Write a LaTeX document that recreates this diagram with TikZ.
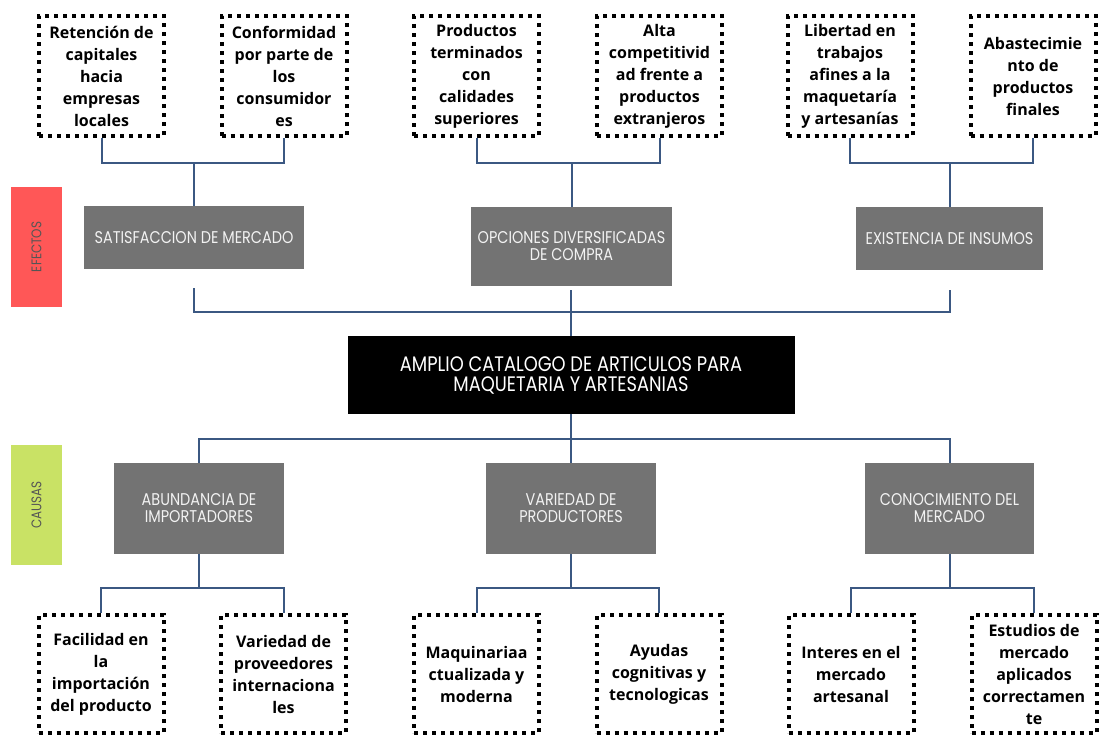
\documentclass[tikz,border=0pt]{standalone}
\usepackage{fontspec}
\setmainfont{Open Sans}
\newfontfamily\gfont[FakeStretch=0.85]{Poppins}
\usepackage{tikz}
\usetikzlibrary{positioning}
\usetikzlibrary{calc}
\usepackage{color}
\definecolor{gris}{RGB}{115,115,115}
\definecolor{claro}{RGB}{242,242,242}
\definecolor{azul}{RGB}{59,88,130}
\definecolor{rojo}{RGB}{255,87,87}
\definecolor{verde}{RGB}{201,226,101}
\definecolor{rotulo}{RGB}{85,85,85}

\tikzset{
  detalle/.style={draw,line width=4pt,dash pattern=on 4pt off 5pt,
    minimum width=125pt,minimum height=120pt,inner sep=0pt,align=center,
    font=\fontsize{16}{22}\selectfont\bfseries},
  bloque/.style={fill=gris,text=claro,inner sep=0pt,align=center,
    font=\gfont\fontsize{17}{17}\selectfont},
  rotulo/.style={rotate=90,minimum width=120pt,minimum height=51pt,inner sep=0pt,
    text=rotulo,font=\gfont\fontsize{14}{14}\selectfont},
  link/.style={draw=azul,line width=2pt}
}

\begin{document}
\begin{tikzpicture}[x=1pt,y=-1pt]
\useasboundingbox (0,0) rectangle (1099,736);
% efectos
\path
(101.5,76) node [detalle](e11) {Retención de\\capitales\\hacia\\empresas\\locales}
(284,76) node [detalle](e12) {Conformidad\\por parte de\\los\\consumidor\\es}
(476.5,76) node [detalle](e21) {Productos\\terminados\\con\\calidades\\superiores}
(659.5,76) node [detalle](e22) {Alta\\competitivid\\ad frente a\\productos\\extranjeros}
(850,76) node [detalle](e31) {Libertad en\\trabajos\\afines a la\\maquetaría\\y artesanías}
(1033,76) node [detalle](e32) {Abastecimie\\nto de\\productos\\finales};
\path
(194,237.5) node [bloque,minimum width=220pt,minimum height=63pt](ef1) {SATISFACCION DE MERCADO}
(571.5,246.5) node [bloque,minimum width=201pt,minimum height=79pt](ef2) {OPCIONES DIVERSIFICADAS\\DE COMPRA}
(949.5,238.5) node [bloque,minimum width=187pt,minimum height=63pt](ef3) {EXISTENCIA DE INSUMOS};
\node [rotulo,fill=rojo](efectos) at (36.5,247) {EFECTOS};
% problema central
\node [fill=black,text=white,minimum width=447pt,minimum height=78pt,inner sep=0pt,align=center,
  font=\gfont\fontsize{21}{20}\selectfont](main) at (571,375)
  {AMPLIO CATALOGO DE ARTICULOS PARA\\MAQUETARIA Y ARTESANIAS};
% causas
\path
(199,508.5) node [bloque,minimum width=170pt,minimum height=91pt](ca1) {ABUNDANCIA DE\\IMPORTADORES}
(571,508.5) node [bloque,minimum width=170pt,minimum height=91pt](ca2) {VARIEDAD DE\\PRODUCTORES}
(949.5,508.5) node [bloque,minimum width=169pt,minimum height=91pt](ca3) {CONOCIMIENTO DEL\\MERCADO};
\node [rotulo,fill=verde](causas) at (36.5,505) {CAUSAS};
\path
(101,674) node [detalle,minimum height=118pt](c11) {Facilidad en\\la\\importación\\del producto}
(283.5,674) node [detalle,minimum height=118pt](c12) {Variedad de\\proveedores\\internaciona\\les}
(476.5,674) node [detalle,minimum height=118pt](c21) {Maquinariaa\\ctualizada y\\moderna}
(659,674) node [detalle,minimum height=118pt](c22) {Ayudas\\cognitivas y\\tecnologicas}
(851,674) node [detalle,minimum height=118pt](c31) {Interes en el\\mercado\\artesanal}
(1034,674) node [detalle,minimum height=118pt](c32) {Estudios de\\mercado\\aplicados\\correctamen\\te};
% conectores de efectos
\draw [link](e11.south) -- ++(0,25) coordinate (t1) -| (e12.south);
\draw [link](ef1.north) -- (ef1.north |- t1);
\draw [link](e21.south) -- ++(0,25) coordinate (t2) -| (e22.south);
\draw [link](ef2.north) -- (ef2.north |- t2);
\draw [link](e31.south) -- ++(0,25) coordinate (t3) -| (e32.south);
\draw [link](ef3.north) -- (ef3.north |- t3);
\draw [link]([yshift=-19pt]ef1.south) -- ++(0,24) coordinate (m1) -| ([yshift=-20pt]ef3.south);
\draw [link](main.north) -- ([yshift=-4pt]main.north |- ef2.south);
% conectores de causas
\draw [link](main.south) -- ++(0,25) coordinate (m2);
\draw [link](ca1.north) |- (m2) -| (ca3.north);
\draw [link](m2) -- (ca2.north);
\draw [link](ca1.south) -- ++(0,34) coordinate (b1);
\draw [link](c11.north) |- (b1) -| (c12.north);
\draw [link](ca2.south) -- ++(0,34) coordinate (b2);
\draw [link](c21.north) |- (b2) -| (c22.north);
\draw [link](ca3.south) -- ++(0,34) coordinate (b3);
\draw [link](c31.north) |- (b3) -| (c32.north);
\end{tikzpicture}
\end{document}
